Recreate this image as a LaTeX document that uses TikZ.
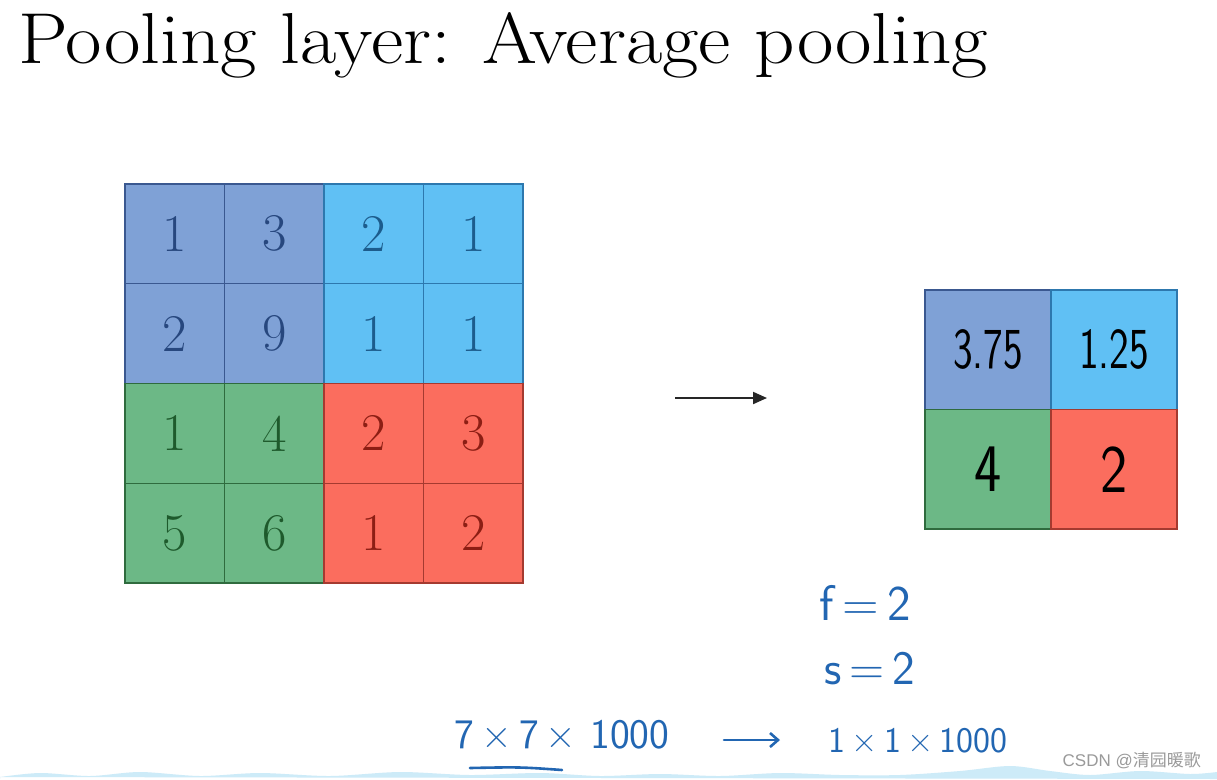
\documentclass[tikz,border=0pt]{standalone}
\usepackage{fontspec}
\usetikzlibrary{arrows.meta}
\newfontfamily\cjkfont{Noto Sans CJK SC}
\newfontfamily\wmfont{Liberation Sans}
\definecolor{cA}{HTML}{7FA1D6}
\definecolor{cB}{HTML}{60C0F4}
\definecolor{cC}{HTML}{6CB886}
\definecolor{cD}{HTML}{FB6D5E}
\definecolor{bA}{HTML}{3A5890}
\definecolor{bB}{HTML}{2D78AE}
\definecolor{bC}{HTML}{2F6B3E}
\definecolor{bD}{HTML}{A53A30}
\definecolor{tA}{HTML}{27477E}
\definecolor{tB}{HTML}{1C5C8C}
\definecolor{tC}{HTML}{1E5A2C}
\definecolor{tD}{HTML}{8C1E14}
\definecolor{ink}{HTML}{2266B2}
\definecolor{wave}{HTML}{CDEBF8}
\definecolor{wm}{HTML}{9A9A9A}
\tikzset{
  cell/.style={draw, line width=1.2pt, minimum width=99.5pt, minimum height=99.75pt, inner sep=0pt, font=\fontsize{53}{60}\selectfont},
  cellA/.style={cell, fill=cA, draw=bA, text=tA},
  cellB/.style={cell, fill=cB, draw=bB, text=tB},
  cellC/.style={cell, fill=cC, draw=bC, text=tC},
  cellD/.style={cell, fill=cD, draw=bD, text=tD},
  outcell/.style={draw, line width=1.4pt, minimum width=126pt, minimum height=119.5pt, inner sep=0pt, text=black, font=\sffamily\fontsize{58}{64}\selectfont},
  bigdigit/.style={font=\sffamily\fontsize{68}{72}\selectfont},
  hand/.style={inner sep=0pt, text=ink},
  inkline/.style={draw=ink, line width=2.6pt, line cap=round},
}
\begin{document}
\begin{tikzpicture}[x=1pt,y=-1pt]
\useasboundingbox[fill=white] (0,0) rectangle (1217,779);
% bottom wave
\fill[wave] (0,779) -- (0,777) plot[smooth] coordinates {(0,777) (40,773) (90,776) (140,772) (200,776) (260,773) (330,776) (400,772) (470,775) (540,773) (600,776) (660,774) (720,776) (780,773) (840,775) (900,775) (960,771) (1010,766) (1050,771) (1090,775) (1140,771) (1190,774) (1217,772)} -- (1217,779) -- cycle;
% title
\node[anchor=base west, inner sep=0pt] (title) at (18,63) {\resizebox{970pt}{51pt}{\fontsize{70}{80}\selectfont Pooling layer: Average pooling}};
% input grid
\node[cellA] (a11) at (174.75,233.9) {1};
\node[cellA] (a12) at (274.25,233.9) {3};
\node[cellA] (a21) at (174.75,333.6) {2};
\node[cellA] (a22) at (274.25,333.6) {9};
\node[cellB] (a13) at (373.75,233.9) {2};
\node[cellB] (a14) at (473.25,233.9) {1};
\node[cellB] (a23) at (373.75,333.6) {1};
\node[cellB] (a24) at (473.25,333.6) {1};
\node[cellC] (a31) at (174.75,433.4) {1};
\node[cellC] (a32) at (274.25,433.4) {4};
\node[cellC] (a41) at (174.75,533.1) {5};
\node[cellC] (a42) at (274.25,533.1) {6};
\node[cellD] (a33) at (373.75,433.4) {2};
\node[cellD] (a34) at (473.25,433.4) {3};
\node[cellD] (a43) at (373.75,533.1) {1};
\node[cellD] (a44) at (473.25,533.1) {2};
% output grid
\node[outcell, fill=cA, draw=bA] (b11) at (988,349.75) {\scalebox{0.72}[1]{3.75}};
\node[outcell, fill=cB, draw=bB] (b12) at (1114,349.75) {\scalebox{0.72}[1]{1.25}};
\node[outcell, bigdigit, fill=cC, draw=bC] (b21) at (988,469.25) {\scalebox{0.85}[1]{4}};
\node[outcell, bigdigit, fill=cD, draw=bD] (b22) at (1114,469.25) {\scalebox{0.85}[1]{2}};
% arrow
\coordinate (p1) at (675,398);
\coordinate (p2) at (767,398);
\draw[line width=2pt, draw=black!85, -{Triangle[length=14pt,width=12pt]}] (p1) -- (p2);
% notes
\node[hand, font=\sffamily\fontsize{50}{60}\selectfont] (f) at (865,603) {f\,=\,2};
\node[hand, font=\sffamily\fontsize{48}{60}\selectfont] (s) at (870,669) {s\,=\,2};
\node[hand, font=\sffamily\fontsize{42}{50}\selectfont] (in) at (562,735) {7\,×\,7\,×\,\,1000};
\node[hand, font=\sffamily\fontsize{36}{50}\selectfont] (outd) at (918,741) {1\,×\,1\,×\,1000};
\coordinate (q1) at (724,740);
\coordinate (q2) at (780,740);
\draw[inkline, -{Straight Barb[length=8pt,width=14pt]}] (q1) -- (q2);
\coordinate (u1) at (470,768);
\coordinate (u2) at (562,770);
\draw[inkline] (u1) .. controls (520,767) .. (u2);
% watermark
\node[anchor=east, inner sep=0pt, text=wm, font=\fontsize{17}{19}\selectfont] (wmk) at (1201,761) {\wmfont CSDN @\cjkfont 清园暖歌};
\end{tikzpicture}
\end{document}
